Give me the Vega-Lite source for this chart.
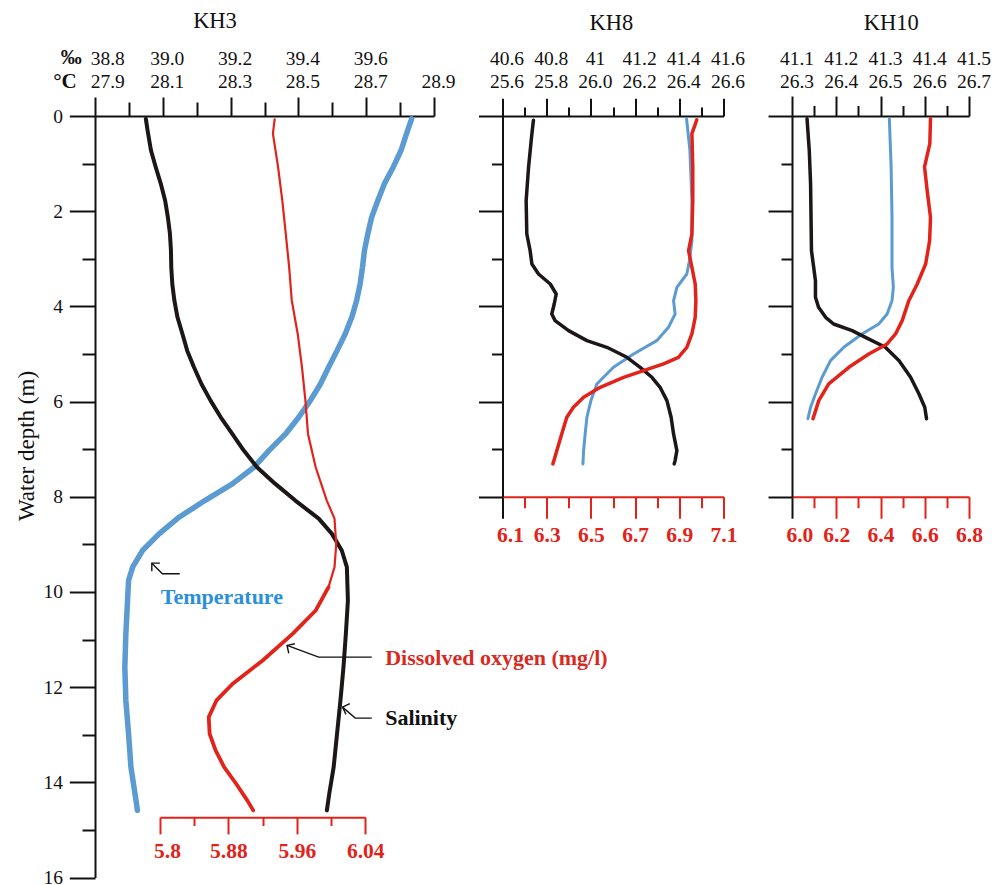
{
"$schema": "https://vega.github.io/schema/vega-lite/v6.json",
"padding": {"left": 15, "top": 10, "right": 5, "bottom": 5},
"background": "white",
"datasets": {
"kh3": [
{"var":"T","depth":0.06,"value":28.834},{"var":"T","depth":0.37,"value":28.819},{"var":"T","depth":0.72,"value":28.803},{"var":"T","depth":1.07,"value":28.78},{"var":"T","depth":1.42,"value":28.754},{"var":"T","depth":1.78,"value":28.734},{"var":"T","depth":2.13,"value":28.716},{"var":"T","depth":2.47,"value":28.705},{"var":"T","depth":2.82,"value":28.695},{"var":"T","depth":3.18,"value":28.689},{"var":"T","depth":3.53,"value":28.682},{"var":"T","depth":3.87,"value":28.672},{"var":"T","depth":4.22,"value":28.658},{"var":"T","depth":4.58,"value":28.638},{"var":"T","depth":4.93,"value":28.614},{"var":"T","depth":5.28,"value":28.589},{"var":"T","depth":5.63,"value":28.565},{"var":"T","depth":5.98,"value":28.535},{"var":"T","depth":6.33,"value":28.501},{"var":"T","depth":6.68,"value":28.462},{"var":"T","depth":7.03,"value":28.413},{"var":"T","depth":7.38,"value":28.369},{"var":"T","depth":7.73,"value":28.305},{"var":"T","depth":8.08,"value":28.224},{"var":"T","depth":8.43,"value":28.148},{"var":"T","depth":8.78,"value":28.089},{"var":"T","depth":9.13,"value":28.04},{"var":"T","depth":9.48,"value":28.011},{"var":"T","depth":9.76,"value":27.999},{"var":"T","depth":10.18,"value":27.996},{"var":"T","depth":10.88,"value":27.991},{"var":"T","depth":11.58,"value":27.988},{"var":"T","depth":12.28,"value":27.991},{"var":"T","depth":12.98,"value":27.999},{"var":"T","depth":13.68,"value":28.006},{"var":"T","depth":14.38,"value":28.021},{"var":"T","depth":14.59,"value":28.025},
{"var":"S","depth":0.06,"value":38.95},{"var":"S","depth":0.3,"value":38.955},{"var":"S","depth":0.72,"value":38.965},{"var":"S","depth":1.07,"value":38.979},{"var":"S","depth":1.42,"value":38.994},{"var":"S","depth":1.78,"value":39.007},{"var":"S","depth":2.13,"value":39.015},{"var":"S","depth":2.47,"value":39.021},{"var":"S","depth":2.82,"value":39.024},{"var":"S","depth":3.18,"value":39.025},{"var":"S","depth":3.53,"value":39.028},{"var":"S","depth":3.87,"value":39.034},{"var":"S","depth":4.22,"value":39.043},{"var":"S","depth":4.58,"value":39.058},{"var":"S","depth":4.93,"value":39.072},{"var":"S","depth":5.28,"value":39.092},{"var":"S","depth":5.63,"value":39.114},{"var":"S","depth":5.98,"value":39.141},{"var":"S","depth":6.33,"value":39.171},{"var":"S","depth":6.68,"value":39.205},{"var":"S","depth":7.03,"value":39.239},{"var":"S","depth":7.38,"value":39.278},{"var":"S","depth":7.73,"value":39.332},{"var":"S","depth":8.08,"value":39.391},{"var":"S","depth":8.46,"value":39.46},{"var":"S","depth":8.78,"value":39.499},{"var":"S","depth":9.13,"value":39.528},{"var":"S","depth":9.48,"value":39.543},{"var":"S","depth":10.18,"value":39.546},{"var":"S","depth":10.88,"value":39.54},{"var":"S","depth":11.58,"value":39.533},{"var":"S","depth":12.28,"value":39.524},{"var":"S","depth":12.98,"value":39.514},{"var":"S","depth":13.68,"value":39.504},{"var":"S","depth":14.24,"value":39.491},{"var":"S","depth":14.59,"value":39.484},
{"var":"D","depth":0.07,"value":5.934},{"var":"D","depth":0.37,"value":5.932},{"var":"D","depth":1.07,"value":5.938},{"var":"D","depth":1.78,"value":5.943},{"var":"D","depth":2.47,"value":5.947},{"var":"D","depth":3.18,"value":5.951},{"var":"D","depth":3.87,"value":5.954},{"var":"D","depth":4.58,"value":5.961},{"var":"D","depth":5.28,"value":5.966},{"var":"D","depth":5.98,"value":5.97},{"var":"D","depth":6.68,"value":5.973},{"var":"D","depth":7.38,"value":5.982},{"var":"D","depth":8.08,"value":5.995},{"var":"D","depth":8.46,"value":6.004},{"var":"D","depth":9.0,"value":6.006},{"var":"D","depth":9.48,"value":6.004},{"var":"D","depth":9.9,"value":5.997},{"var":"D","depth":10.39,"value":5.982},{"var":"D","depth":10.88,"value":5.955},{"var":"D","depth":11.44,"value":5.92},{"var":"D","depth":11.93,"value":5.885},{"var":"D","depth":12.28,"value":5.866},{"var":"D","depth":12.63,"value":5.857},{"var":"D","depth":12.98,"value":5.858},{"var":"D","depth":13.33,"value":5.865},{"var":"D","depth":13.68,"value":5.875},{"var":"D","depth":14.03,"value":5.889},{"var":"D","depth":14.38,"value":5.902},{"var":"D","depth":14.59,"value":5.909}
],
"kh8": [
{"var":"S","depth":0.09,"value":40.74},{"var":"S","depth":0.37,"value":40.733},{"var":"S","depth":1.07,"value":40.718},{"var":"S","depth":1.78,"value":40.707},{"var":"S","depth":2.48,"value":40.71},{"var":"S","depth":2.83,"value":40.725},{"var":"S","depth":3.11,"value":40.733},{"var":"S","depth":3.32,"value":40.763},{"var":"S","depth":3.53,"value":40.816},{"var":"S","depth":3.74,"value":40.843},{"var":"S","depth":3.95,"value":40.834},{"var":"S","depth":4.16,"value":40.823},{"var":"S","depth":4.3,"value":40.838},{"var":"S","depth":4.51,"value":40.899},{"var":"S","depth":4.72,"value":40.982},{"var":"S","depth":4.86,"value":41.072},{"var":"S","depth":5.07,"value":41.163},{"var":"S","depth":5.28,"value":41.223},{"var":"S","depth":5.49,"value":41.276},{"var":"S","depth":5.7,"value":41.313},{"var":"S","depth":5.98,"value":41.344},{"var":"S","depth":6.33,"value":41.363},{"var":"S","depth":6.68,"value":41.374},{"var":"S","depth":7.03,"value":41.389},{"var":"S","depth":7.24,"value":41.381},{"var":"S","depth":7.31,"value":41.377},
{"var":"T","depth":0.06,"value":26.433},{"var":"T","depth":0.72,"value":26.448},{"var":"T","depth":1.78,"value":26.457},{"var":"T","depth":2.62,"value":26.457},{"var":"T","depth":3.04,"value":26.446},{"var":"T","depth":3.32,"value":26.434},{"var":"T","depth":3.6,"value":26.389},{"var":"T","depth":3.88,"value":26.374},{"var":"T","depth":4.16,"value":26.381},{"var":"T","depth":4.44,"value":26.351},{"var":"T","depth":4.72,"value":26.298},{"var":"T","depth":5.0,"value":26.193},{"var":"T","depth":5.28,"value":26.102},{"var":"T","depth":5.63,"value":26.027},{"var":"T","depth":5.98,"value":26.0},{"var":"T","depth":6.33,"value":25.982},{"var":"T","depth":6.68,"value":25.974},{"var":"T","depth":7.03,"value":25.967},{"var":"T","depth":7.31,"value":25.964},
{"var":"D","depth":0.08,"value":6.979},{"var":"D","depth":0.37,"value":6.957},{"var":"D","depth":1.07,"value":6.961},{"var":"D","depth":1.78,"value":6.961},{"var":"D","depth":2.48,"value":6.957},{"var":"D","depth":2.83,"value":6.942},{"var":"D","depth":3.18,"value":6.957},{"var":"D","depth":3.53,"value":6.972},{"var":"D","depth":3.88,"value":6.975},{"var":"D","depth":4.23,"value":6.972},{"var":"D","depth":4.58,"value":6.957},{"var":"D","depth":4.86,"value":6.934},{"var":"D","depth":5.07,"value":6.896},{"var":"D","depth":5.21,"value":6.829},{"var":"D","depth":5.35,"value":6.738},{"var":"D","depth":5.49,"value":6.648},{"var":"D","depth":5.7,"value":6.542},{"var":"D","depth":5.91,"value":6.467},{"var":"D","depth":6.12,"value":6.421},{"var":"D","depth":6.33,"value":6.391},{"var":"D","depth":6.68,"value":6.368},{"var":"D","depth":7.03,"value":6.346},{"var":"D","depth":7.31,"value":6.328}
],
"kh10": [
{"var":"S","depth":0.06,"value":41.134},{"var":"S","depth":0.72,"value":41.139},{"var":"S","depth":1.43,"value":41.142},{"var":"S","depth":2.13,"value":41.143},{"var":"S","depth":2.83,"value":41.144},{"var":"S","depth":3.18,"value":41.149},{"var":"S","depth":3.46,"value":41.153},{"var":"S","depth":3.81,"value":41.153},{"var":"S","depth":4.02,"value":41.16},{"var":"S","depth":4.23,"value":41.176},{"var":"S","depth":4.37,"value":41.194},{"var":"S","depth":4.51,"value":41.236},{"var":"S","depth":4.65,"value":41.266},{"var":"S","depth":4.86,"value":41.311},{"var":"S","depth":5.14,"value":41.342},{"var":"S","depth":5.49,"value":41.368},{"var":"S","depth":5.84,"value":41.387},{"var":"S","depth":6.12,"value":41.4},{"var":"S","depth":6.36,"value":41.404},
{"var":"T","depth":0.06,"value":26.52},{"var":"T","depth":1.07,"value":26.524},{"var":"T","depth":2.13,"value":26.526},{"var":"T","depth":3.18,"value":26.526},{"var":"T","depth":3.6,"value":26.529},{"var":"T","depth":3.88,"value":26.526},{"var":"T","depth":4.16,"value":26.515},{"var":"T","depth":4.37,"value":26.496},{"var":"T","depth":4.58,"value":26.458},{"var":"T","depth":4.86,"value":26.417},{"var":"T","depth":5.14,"value":26.387},{"var":"T","depth":5.49,"value":26.368},{"var":"T","depth":5.84,"value":26.353},{"var":"T","depth":6.12,"value":26.342},{"var":"T","depth":6.36,"value":26.336},
{"var":"D","depth":0.06,"value":6.626},{"var":"D","depth":0.58,"value":6.623},{"var":"D","depth":1.07,"value":6.599},{"var":"D","depth":1.57,"value":6.611},{"var":"D","depth":2.13,"value":6.626},{"var":"D","depth":2.62,"value":6.622},{"var":"D","depth":3.11,"value":6.604},{"var":"D","depth":3.53,"value":6.566},{"var":"D","depth":3.88,"value":6.528},{"var":"D","depth":4.3,"value":6.498},{"var":"D","depth":4.58,"value":6.468},{"var":"D","depth":4.79,"value":6.43},{"var":"D","depth":5.0,"value":6.347},{"var":"D","depth":5.28,"value":6.257},{"var":"D","depth":5.63,"value":6.166},{"var":"D","depth":5.98,"value":6.121},{"var":"D","depth":6.36,"value":6.095}
],
"arrows": [
{"a":"T","k":0,"t":28.15,"depth":9.618},{"a":"T","k":1,"t":28.0988,"depth":9.618},{"a":"T","k":2,"t":28.0676,"depth":9.395},
{"a":"D","k":0,"t":28.7165,"depth":11.37},{"a":"D","k":1,"t":28.5597,"depth":11.37},{"a":"D","k":2,"t":28.4665,"depth":11.124},
{"a":"S","k":0,"t":28.7165,"depth":12.651},{"a":"S","k":1,"t":28.6676,"depth":12.651},{"a":"S","k":2,"t":28.6303,"depth":12.42}
],
"notes": [
{"label":"Temperature","t":28.0941,"depth":10.248},
{"label":"Dissolved oxygen (mg/l)","t":28.7559,"depth":11.544},
{"label":"Salinity","t":28.7559,"depth":12.79}
]
},
"spacing": 68.5,
"bounds": "flush",
"hconcat": [
{
"width": 339, "height": 761.5,
"title": {"text": "KH3", "frame": "group", "anchor": "middle", "dx": -49.5, "offset": -4, "baseline": "alphabetic"},
"data": {"name": "kh3"},
"encoding": {"y": {"field": "depth", "type": "quantitative", "scale": {"domain": [0, 16], "reverse": true, "nice": false, "zero": false},
  "axis": {"values": [0,1,2,3,4,5,6,7,8,9,10,11,12,13,14,15,16], "tickSize": {"condition": {"test": "datum.value%2==0", "value": 25.7}, "value": 13}, "labelExpr": "datum.value%2==0 ? datum.label : ''", "labelPadding": 6.7, "title": "Water depth (m)", "titleFontSize": 23, "titleFontWeight": "normal", "titleAngle": 270, "titleX": -69, "titleY": 329.5, "titleAlign": "center", "titleBaseline": "middle"}}},
"layer": [
{"transform": [{"filter": "datum.var=='T'"}],
 "mark": {"type": "line", "color": "#5b9bd2", "strokeWidth": 5.5, "strokeCap": "round", "strokeJoin": "round"},
 "encoding": {"x": {"field": "value", "type": "quantitative", "scale": {"domain": [27.9, 28.9], "nice": false, "zero": false},
   "axis": {"orient": "top", "values": [27.9,28.0,28.1,28.2,28.3,28.4,28.5,28.6,28.7,28.8,28.9], "tickSize": {"condition": {"test": "round(datum.value*10)%2==1", "value": 19}, "value": 14}, "labelExpr": "round(datum.value*10)%2==1 ? format(datum.value,'.1f') : ''", "labelPadding": 10, "labelBaseline": "alphabetic", "labelOffset": {"condition": {"test": "datum.value==27.9", "value": 12.3}, "value": 4}, "title": "°C", "titleX": -18.7, "titleY": -29, "titleAlign": "right", "titleBaseline": "alphabetic", "titleFontWeight": "bold", "titleFontSize": 21, "titleAngle": 0}},
  "order": {"field": "depth", "type": "quantitative"}}},
{"transform": [{"filter": "datum.var=='S'"}],
 "mark": {"type": "line", "color": "#1d1616", "strokeWidth": 4, "strokeCap": "round", "strokeJoin": "round"},
 "encoding": {"x": {"field": "value", "type": "quantitative", "scale": {"domain": [38.8, 39.8], "nice": false, "zero": false},
   "axis": {"orient": "top", "values": [38.8,39.0,39.2,39.4,39.6], "ticks": false, "tickSize": 0, "domain": false, "labelPadding": 52, "labelBaseline": "alphabetic", "labelExpr": "format(datum.value,'.1f')", "labelOffset": {"condition": {"test": "datum.value==38.8", "value": 12.3}, "value": 4}, "title": "‰", "titleX": -13.7, "titleY": -52.5, "titleAlign": "right", "titleBaseline": "alphabetic", "titleFontWeight": "bold", "titleFontSize": 21, "titleAngle": 0}},
  "order": {"field": "depth", "type": "quantitative"}}},
{"transform": [{"filter": "datum.var=='D' && datum.depth<=9.9"}],
 "mark": {"type": "line", "color": "#e2231a", "strokeWidth": 2.2, "strokeCap": "round", "strokeJoin": "round"},
 "encoding": {"x": {"field": "value", "type": "quantitative", "scale": {"domain": [5.8, 6.04], "range": [65, 270.3], "nice": false, "zero": false},
   "axis": {"orient": "bottom", "offset": -60.3, "values": [5.8,5.84,5.88,5.92,5.96,6.0,6.04], "tickSize": {"condition": {"test": "round(datum.value*100)%8==4", "value": 16.7}, "value": 8.3}, "labelExpr": "round(datum.value*100)%8==4 ? format(datum.value,'.2~f') : ''", "domainColor": "#e2231a", "tickColor": "#e2231a", "labelColor": "#e2231a", "labelFontWeight": "bold", "labelFontSize": 21.5, "labelPadding": 23.3, "labelBaseline": "alphabetic", "labelOffset": {"condition": {"test": "datum.value==5.8", "value": 7}, "value": 0}, "title": null}},
  "order": {"field": "depth", "type": "quantitative"}}},
{"transform": [{"filter": "datum.var=='D' && datum.depth>=9.9"}],
 "mark": {"type": "line", "color": "#e2231a", "strokeWidth": 3.8, "strokeCap": "round", "strokeJoin": "round"},
 "encoding": {"x": {"field": "value", "type": "quantitative", "scale": {"domain": [5.8, 6.04], "range": [65, 270.3], "nice": false, "zero": false}, "axis": null},
  "order": {"field": "depth", "type": "quantitative"}}},
{"data": {"name": "arrows"},
 "mark": {"type": "line", "color": "#111", "strokeWidth": 1.4},
 "encoding": {"x": {"field": "t", "type": "quantitative", "scale": {"domain": [27.9, 28.9], "nice": false, "zero": false}, "axis": null},
  "detail": {"field": "a"}, "order": {"field": "k", "type": "quantitative"}}},
{"data": {"name": "arrows"},
 "transform": [{"filter": "datum.k==2"}],
 "mark": {"type": "point", "shape": "M0.8,-0.8L0,0L0.8,0.8", "filled": false, "color": "#111", "strokeWidth": 1.4, "size": 200, "opacity": 1},
 "encoding": {"x": {"field": "t", "type": "quantitative", "scale": {"domain": [27.9, 28.9], "nice": false, "zero": false}, "axis": null},
  "angle": {"field": "a", "type": "nominal", "scale": {"domain": ["T", "D", "S"], "range": [45, 20, 41]}, "legend": null}}},
{"data": {"name": "notes"},
 "mark": {"type": "text", "align": "left", "baseline": "alphabetic", "font": "Liberation Serif", "fontSize": 22, "fontWeight": "bold"},
 "encoding": {"x": {"field": "t", "type": "quantitative", "scale": {"domain": [27.9, 28.9], "nice": false, "zero": false}, "axis": null},
  "text": {"field": "label"},
  "color": {"field": "label", "type": "nominal", "scale": {"domain": ["Temperature", "Dissolved oxygen (mg/l)", "Salinity"], "range": ["#2b8fdc", "#d92a1f", "#111111"]}, "legend": null}}}
],
"resolve": {"scale": {"x": "independent", "color": "independent", "angle": "independent"}, "axis": {"x": "independent"}}
},
{
"width": 221, "height": 380.75,
"title": {"text": "KH8", "frame": "group", "anchor": "middle", "dx": -1.7, "offset": -4, "baseline": "alphabetic"},
"data": {"name": "kh8"},
"encoding": {"y": {"field": "depth", "type": "quantitative", "scale": {"domain": [0, 8], "reverse": true, "nice": false, "zero": false},
  "axis": {"values": [0,1,2,3,4,5,6,7,8], "tickSize": {"condition": {"test": "datum.value%2==0", "value": 24}, "value": 11}, "labels": false, "title": null}}},
"layer": [
{"transform": [{"filter": "datum.var=='T'"}],
 "mark": {"type": "line", "color": "#5b9bd2", "strokeWidth": 3, "strokeCap": "round", "strokeJoin": "round"},
 "encoding": {"x": {"field": "value", "type": "quantitative", "scale": {"domain": [25.6, 26.6], "nice": false, "zero": false},
   "axis": {"orient": "top", "values": [25.6,25.7,25.8,25.9,26.0,26.1,26.2,26.3,26.4,26.5,26.6], "tickSize": {"condition": {"test": "round(datum.value*10)%2==0", "value": 17.8}, "value": 9}, "labelExpr": "round(datum.value*10)%2==0 ? format(datum.value,'.1f') : ''", "labelPadding": 11.2, "labelBaseline": "alphabetic", "labelOffset": 4, "title": null}},
  "order": {"field": "depth", "type": "quantitative"}}},
{"transform": [{"filter": "datum.var=='S'"}],
 "mark": {"type": "line", "color": "#1d1616", "strokeWidth": 3.5, "strokeCap": "round", "strokeJoin": "round"},
 "encoding": {"x": {"field": "value", "type": "quantitative", "scale": {"domain": [40.6, 41.6], "nice": false, "zero": false},
   "axis": {"orient": "top", "values": [40.6,40.8,41.0,41.2,41.4,41.6], "ticks": false, "tickSize": 0, "domain": false, "labelPadding": 52, "labelBaseline": "alphabetic", "labelExpr": "format(datum.value,'.1~f')", "labelOffset": 4, "title": null}},
  "order": {"field": "depth", "type": "quantitative"}}},
{"transform": [{"filter": "datum.var=='D'"}],
 "mark": {"type": "line", "color": "#e2231a", "strokeWidth": 3.5, "strokeCap": "round", "strokeJoin": "round"},
 "encoding": {"x": {"field": "value", "type": "quantitative", "scale": {"domain": [6.1, 7.1], "nice": false, "zero": false},
   "axis": {"orient": "bottom", "values": [6.1,6.2,6.3,6.4,6.5,6.6,6.7,6.8,6.9,7.0,7.1], "tickSize": {"condition": {"test": "round(datum.value*10)%2==1", "value": 21.5}, "value": 11}, "labelExpr": "round(datum.value*10)%2==1 ? format(datum.value,'.1f') : ''", "domainColor": "#e2231a", "tickColor": {"condition": {"test": "datum.value==6.1", "value": "#111"}, "value": "#e2231a"}, "labelColor": "#e2231a", "labelFontWeight": "bold", "labelFontSize": 21.5, "labelPadding": 23.5, "labelBaseline": "alphabetic", "labelOffset": {"condition": {"test": "datum.value==6.1", "value": 7.5}, "value": 0}, "title": null}},
  "order": {"field": "depth", "type": "quantitative"}}}
],
"resolve": {"scale": {"x": "independent"}, "axis": {"x": "independent"}}
},
{
"width": 177, "height": 380.75,
"title": {"text": "KH10", "frame": "group", "anchor": "middle", "dx": 10.8, "offset": -4, "baseline": "alphabetic"},
"data": {"name": "kh10"},
"encoding": {"y": {"field": "depth", "type": "quantitative", "scale": {"domain": [0, 8], "reverse": true, "nice": false, "zero": false},
  "axis": {"values": [0,1,2,3,4,5,6,7,8], "tickSize": {"condition": {"test": "datum.value%2==0", "value": 24}, "value": 11}, "labels": false, "title": null}}},
"layer": [
{"transform": [{"filter": "datum.var=='T'"}],
 "mark": {"type": "line", "color": "#5b9bd2", "strokeWidth": 3, "strokeCap": "round", "strokeJoin": "round"},
 "encoding": {"x": {"field": "value", "type": "quantitative", "scale": {"domain": [26.3, 26.7], "nice": false, "zero": false},
   "axis": {"orient": "top", "values": [26.3,26.35,26.4,26.45,26.5,26.55,26.6,26.65,26.7], "tickSize": {"condition": {"test": "round(datum.value*100)%10==0", "value": 20}, "value": 10.5}, "labelExpr": "round(datum.value*100)%10==0 ? format(datum.value,'.1f') : ''", "labelPadding": 9, "labelBaseline": "alphabetic", "labelOffset": 4.5, "title": null}},
  "order": {"field": "depth", "type": "quantitative"}}},
{"transform": [{"filter": "datum.var=='S'"}],
 "mark": {"type": "line", "color": "#1d1616", "strokeWidth": 3.5, "strokeCap": "round", "strokeJoin": "round"},
 "encoding": {"x": {"field": "value", "type": "quantitative", "scale": {"domain": [41.1, 41.5], "nice": false, "zero": false},
   "axis": {"orient": "top", "values": [41.1,41.2,41.3,41.4,41.5], "ticks": false, "tickSize": 0, "domain": false, "labelPadding": 52, "labelBaseline": "alphabetic", "labelExpr": "format(datum.value,'.1f')", "labelOffset": 4.5, "title": null}},
  "order": {"field": "depth", "type": "quantitative"}}},
{"transform": [{"filter": "datum.var=='D'"}],
 "mark": {"type": "line", "color": "#e2231a", "strokeWidth": 3.5, "strokeCap": "round", "strokeJoin": "round"},
 "encoding": {"x": {"field": "value", "type": "quantitative", "scale": {"domain": [6.0, 6.8], "nice": false, "zero": false},
   "axis": {"orient": "bottom", "values": [6.0,6.1,6.2,6.3,6.4,6.5,6.6,6.7,6.8], "tickSize": {"condition": {"test": "round(datum.value*10)%2==0", "value": 21.5}, "value": 11}, "labelExpr": "round(datum.value*10)%2==0 ? format(datum.value,'.1f') : ''", "domainColor": "#e2231a", "tickColor": {"condition": {"test": "datum.value==6.0", "value": "#111"}, "value": "#e2231a"}, "labelColor": "#e2231a", "labelFontWeight": "bold", "labelFontSize": 21.5, "labelPadding": 23.5, "labelBaseline": "alphabetic", "labelOffset": {"condition": {"test": "datum.value==6.0", "value": 7.4}, "value": 0}, "title": null}},
  "order": {"field": "depth", "type": "quantitative"}}}
],
"resolve": {"scale": {"x": "independent"}, "axis": {"x": "independent"}}
}
],
"config": {
 "view": {"stroke": null},
 "axis": {"grid": false, "labelFont": "Liberation Serif", "labelFontSize": 19.5, "labelColor": "#111", "domainColor": "#111", "tickColor": "#111", "domainWidth": 2, "tickWidth": 2, "labelFlush": false, "labelOverlap": false, "labelBound": false, "titleFont": "Liberation Serif", "titleColor": "#111"},
 "title": {"font": "Liberation Serif", "fontSize": 22.5, "fontWeight": "normal", "color": "#111"}
}
}
